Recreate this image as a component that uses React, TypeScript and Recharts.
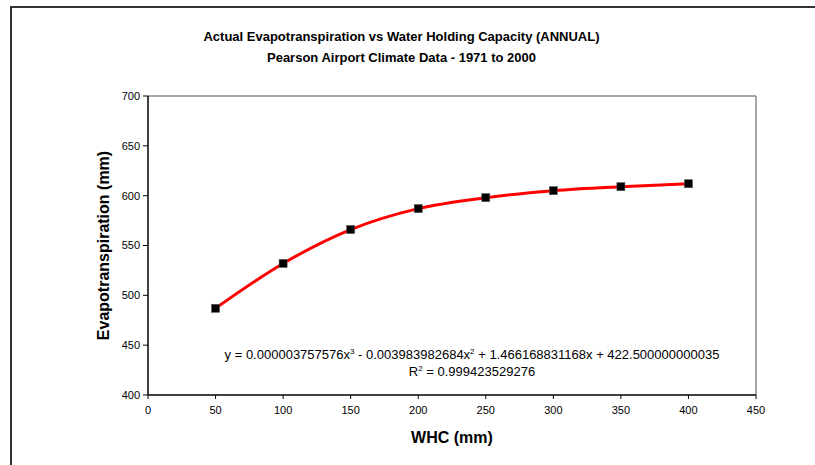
import React from "react";
import {
  ComposedChart,
  Line,
  Scatter,
  XAxis,
  YAxis,
  ReferenceLine,
} from "recharts";

const whc = [50, 100, 150, 200, 250, 300, 350, 400];
const evapo = [487, 532, 566, 587, 598, 605, 609, 612];
const xTicks = [0, 50, 100, 150, 200, 250, 300, 350, 400, 450];
const yTicks = [400, 450, 500, 550, 600, 650, 700];

const data = whc.map((x, i) => ({ x, y: evapo[i] }));

const FONT = "'Liberation Sans', Arial, sans-serif";

const Square = (props: any) => {
  const { cx, cy } = props;
  if (cx == null || cy == null) return null;
  return (
    <rect x={cx - 4} y={cy - 4} width={8} height={8} fill="#000" stroke="#555" strokeWidth={0.6} />
  );
};

export default function App() {
  return (
    <div style={{ position: "absolute", left: 0, top: 0, width: 815, height: 465, background: "#fff", fontFamily: FONT }}>
      <div style={{ position: "absolute", left: 10, top: 6, width: 2, height: 459, background: "#333" }} />
      <div style={{ position: "absolute", left: 10, top: 6, width: 805, height: 2, background: "#333" }} />
      <div style={{ position: "absolute", left: 0, width: 815, top: 26, textAlign: "center", fontWeight: "bold", fontSize: 13, lineHeight: "21px", color: "#000" }}>
        <div style={{ marginLeft: -12 }}>Actual Evapotranspiration vs Water Holding Capacity (ANNUAL)</div>
        <div style={{ marginLeft: -12 }}>Pearson Airport Climate Data - 1971 to 2000</div>
      </div>
      <ComposedChart
        width={815}
        height={465}
        data={data}
        margin={{ top: 96, right: 59, bottom: 40, left: 108 }}
        style={{ position: "absolute", left: 0, top: 0 }}
      >
        <XAxis
          type="number"
          dataKey="x"
          domain={[0, 450]}
          ticks={xTicks}
          interval={0}
          height={30}
          tickSize={4}
          tickMargin={7}
          axisLine={{ stroke: "#000", strokeWidth: 1.5 }}
          tickLine={{ stroke: "#000" }}
          tick={{ fill: "#000", fontSize: 11, fontFamily: FONT }}
          label={{ value: "WHC (mm)", position: "insideBottom", offset: -18, fill: "#000", fontSize: 16, fontWeight: "bold", fontFamily: FONT }}
        />
        <YAxis
          type="number"
          dataKey="y"
          domain={[400, 700]}
          ticks={yTicks}
          interval={0}
          width={40}
          tickSize={5}
          tickMargin={3}
          axisLine={{ stroke: "#000", strokeWidth: 1.5 }}
          tickLine={{ stroke: "#000" }}
          tick={{ fill: "#000", fontSize: 11, fontFamily: FONT }}
          label={{ value: "Evapotranspiration (mm)", angle: -90, position: "insideLeft", offset: -5, style: { textAnchor: "middle" }, fill: "#000", fontSize: 16, fontWeight: "bold", fontFamily: FONT }}
        />
        <ReferenceLine y={700} stroke="#888" strokeWidth={1.5} />
        <ReferenceLine x={450} stroke="#888" strokeWidth={1.5} />
        <Scatter dataKey="y" shape={<Square />} isAnimationActive={false} />
        <Line
          type="monotone"
          dataKey="y"
          stroke="#ff0000"
          strokeWidth={3}
          dot={false}
          activeDot={false}
          isAnimationActive={false}
        />
      </ComposedChart>
      <div style={{ position: "absolute", left: 172, width: 600, top: 346, textAlign: "center", fontSize: 13, lineHeight: "17px", color: "#000" }}>
        <div>
          y = 0.000003757576x<sup style={{ fontSize: 8, lineHeight: 0 }}>3</sup> - 0.003983982684x<sup style={{ fontSize: 8, lineHeight: 0 }}>2</sup> + 1.466168831168x + 422.500000000035
        </div>
        <div>
          R<sup style={{ fontSize: 8, lineHeight: 0 }}>2</sup> = 0.999423529276
        </div>
      </div>
    </div>
  );
}
